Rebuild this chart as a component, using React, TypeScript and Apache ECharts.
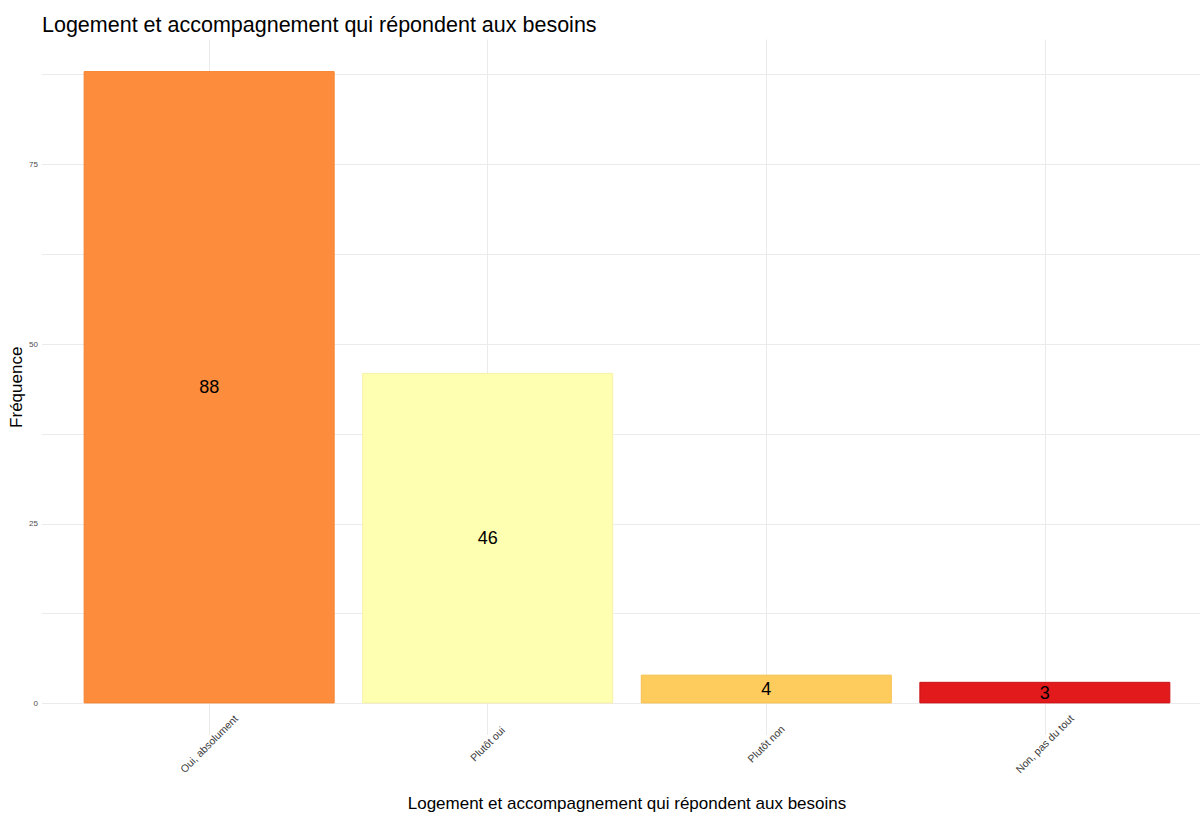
import React, { useEffect, useRef } from "react";
import * as echarts from "echarts";

// Réponses à la question et effectifs
const categories: string[] = [
  "Oui, absolument",
  "Plutôt oui",
  "Plutôt non",
  "Non, pas du tout",
];
const frequencies: number[] = [88, 46, 4, 3];
const fillColors: string[] = ["#FD8D3C", "#FFFFB2", "#FECC5C", "#E31A1C"];
const borderColors: string[] = ["#F5822F", "#F7F2A6", "#F6C04F", "#C9141A"];

// Graduations de l'axe des fréquences (libellés tous les 25, quadrillage tous les 12,5)
const yLabelStep = 25;
const yGridStep = 12.5;

const titleText = "Logement et accompagnement qui répondent aux besoins";
const xTitle = "Logement et accompagnement qui répondent aux besoins";
const yTitle = "Fréquence";

const FONT = "Liberation Sans, Arial, Helvetica, sans-serif";

export default function App() {
  const ref = useRef<HTMLDivElement>(null);

  useEffect(() => {
    if (!ref.current) return;
    const chart = echarts.init(ref.current, undefined, { renderer: "svg" });

    const yMaxData = Math.max(...frequencies);
    // expansion de 5 % de l'étendue, comme une échelle continue par défaut
    const yMin = -0.05 * yMaxData;
    const yMax = yMaxData * 1.05;

    const barData = frequencies.map((v, i) => ({
      value: [i, v],
      itemStyle: {
        color: fillColors[i],
        borderColor: borderColors[i],
        borderWidth: 1,
      },
    }));

    chart.setOption({
      animation: false,
      backgroundColor: "#ffffff",
      textStyle: { fontFamily: FONT },
      title: {
        text: titleText,
        left: 37,
        top: 9,
        textStyle: {
          fontFamily: FONT,
          fontSize: 21.5,
          fontWeight: "normal",
          color: "#000000",
        },
      },
      grid: {
        left: 42,
        right: -12,
        top: 39.5,
        bottom: 79,
        containLabel: false,
        outerBoundsMode: "none",
      },
      xAxis: {
        type: "value",
        min: -0.6,
        max: categories.length - 0.4,
        minInterval: 1,
        maxInterval: 1,
        name: xTitle,
        nameLocation: "middle",
        nameGap: 60,
        nameMoveOverlap: false,
        nameTextStyle: { fontFamily: FONT, fontSize: 17, color: "#000000" },
        axisLine: { show: false },
        axisTick: { show: false },
        axisLabel: {
          rotate: 45,
          align: "center",
          verticalAlign: "middle",
          margin: 9,
          fontFamily: FONT,
          fontSize: 10.5,
          color: "#3A3A3A",
          showMinLabel: false,
          showMaxLabel: false,
          formatter: (v: number) =>
            Number.isInteger(v) && v >= 0 && v < categories.length
              ? categories[v]
              : "",
        },
        splitLine: {
          show: true,
          showMinLine: false,
          showMaxLine: false,
          lineStyle: { color: "#EBEBEB", width: 1 },
        },
      },
      yAxis: {
        type: "value",
        min: yMin,
        max: yMax,
        minInterval: yGridStep,
        maxInterval: yGridStep,
        name: yTitle,
        nameLocation: "middle",
        nameRotate: 90,
        nameGap: 17,
        nameMoveOverlap: false,
        nameTextStyle: { fontFamily: FONT, fontSize: 17, color: "#000000" },
        axisLine: { show: false },
        axisTick: { show: false },
        axisLabel: {
          margin: 4,
          fontFamily: FONT,
          fontSize: 8,
          color: "#4D4D4D",
          showMinLabel: false,
          showMaxLabel: false,
          formatter: (v: number) =>
            Math.abs(v % yLabelStep) < 1e-9 ? String(v) : "",
        },
        splitLine: {
          show: true,
          showMinLine: false,
          showMaxLine: false,
          lineStyle: { color: "#EBEBEB", width: 1 },
        },
      },
      series: [
        {
          type: "bar",
          data: barData,
          barWidth: 251,
          label: {
            show: true,
            position: "inside",
            fontFamily: FONT,
            fontSize: 18,
            color: "#000000",
            formatter: (p: any) => String(p.value[1]),
          },
        },
      ],
    });

    return () => chart.dispose();
  }, []);

  return (
    <div
      ref={ref}
      style={{
        position: "fixed",
        left: 0,
        top: 0,
        width: 1200,
        height: 814,
        background: "#ffffff",
      }}
    />
  );
}
